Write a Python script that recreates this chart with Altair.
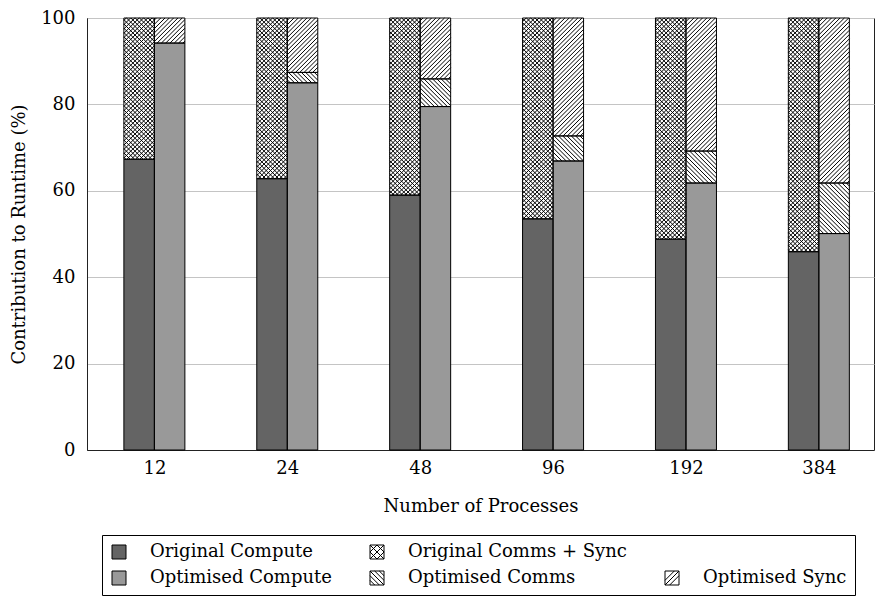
import altair as alt
import numpy as np
import pandas as pd

# ---------------- data ----------------
process_counts = ["12", "24", "48", "96", "192", "384"]
original_compute = [67.3, 62.8, 59.0, 53.5, 48.8, 45.9]
original_comms_sync = [32.7, 37.2, 41.0, 46.5, 51.2, 54.1]
optimised_compute = [94.2, 85.0, 79.5, 66.9, 61.8, 50.1]
optimised_comms = [0.0, 2.4, 6.4, 5.8, 7.4, 11.7]
optimised_sync = [5.8, 12.6, 14.1, 27.3, 30.8, 38.2]

# legend order (column-major, 2 rows x 3 columns); " " is an empty slot
series_names = ["Original Compute", "Optimised Compute",
                "Original Comms + Sync", "Optimised Comms",
                " ", "Optimised Sync"]
series_colors = ["#646464", "#999999", "#ffffff", "#ffffff", "#ffffff", "#ffffff"]
series_strokes = ["black", "black", "black", "black", "transparent", "black"]

# legend symbol paths (unit square -1..1)
SQ = "M-1,-1H1V1H-1Z"
CROSS = SQ + " M-1,0L0,-1 M-1,1L1,-1 M0,1L1,0 M-1,0L0,1 M-1,-1L1,1 M0,-1L1,0"
BACK = SQ + " M-1,-0.33L0.33,1 M-1,0.33L-0.33,1 M-1,-1L1,1 M-0.33,-1L1,0.33 M0.33,-1L1,-0.33"
FWD = SQ + " M-1,1L1,-1 M-1,0.33L0.33,-1 M-0.33,1L1,-0.33"
series_shapes = [SQ, SQ, CROSS, BACK, "M0,0", FWD]

# ---------------- layout constants ----------------
W, H = 787, 432
X_DOMAIN = [-0.507, 5.415]
BAR_W = 0.2295
HATCH_PERIOD = 4.3  # px, horizontal period of hatch lines
FONT = "DejaVu Serif"

# ---------------- build stacked rects ----------------
rows = []
for i, g in enumerate(process_counts):
    base = 0.0
    for name, vals in [("Original Compute", original_compute),
                       ("Original Comms + Sync", original_comms_sync)]:
        rows.append(dict(series=name, x0=i - BAR_W, x1=float(i), y0=base, y1=base + vals[i]))
        base += vals[i]
    base = 0.0
    for name, vals in [("Optimised Compute", optimised_compute),
                       ("Optimised Comms", optimised_comms),
                       ("Optimised Sync", optimised_sync)]:
        rows.append(dict(series=name, x0=float(i), x1=i + BAR_W, y0=base, y1=base + vals[i]))
        base += vals[i]
rects = pd.DataFrame(rows)
rects = rects[rects.y1 - rects.y0 > 1e-9]

# ---------------- hatch lines derived from rects ----------------
kx = W / (X_DOMAIN[1] - X_DOMAIN[0])
ky = H / 100.0


def hatch(x0, x1, y0, y1, direction):
    X0, X1, Y0, Y1 = x0 * kx, x1 * kx, y0 * ky, y1 * ky
    P = HATCH_PERIOD
    out = []
    if direction == "/":
        cmin, cmax = X0 - Y1, X1 - Y0
        k = np.ceil(cmin / P)
        while k * P < cmax:
            c = k * P
            lo, hi = max(Y0, X0 - c), min(Y1, X1 - c)
            if hi - lo > 1e-6:
                out.append(((lo + c) / kx, lo / ky, (hi + c) / kx, hi / ky))
            k += 1
    else:
        cmin, cmax = X0 + Y0, X1 + Y1
        k = np.ceil(cmin / P)
        while k * P < cmax:
            c = k * P
            lo, hi = max(Y0, c - X1), min(Y1, c - X0)
            if hi - lo > 1e-6:
                out.append(((c - lo) / kx, lo / ky, (c - hi) / kx, hi / ky))
            k += 1
    return out


hatch_dirs = {"Original Comms + Sync": ["/", "\\"],
              "Optimised Comms": ["\\"],
              "Optimised Sync": ["/"]}
lines = []
for r in rects.itertuples():
    for d in hatch_dirs.get(r.series, []):
        for (a, b, c, e) in hatch(r.x0, r.x1, r.y0, r.y1, d):
            lines.append(dict(hx=a, hy=b, hx2=c, hy2=e))
hatch_df = pd.DataFrame(lines)

# ---------------- chart ----------------
xscale = alt.Scale(domain=X_DOMAIN, nice=False, zero=False)
yscale = alt.Scale(domain=[0, 100], nice=False)
fill_scale = alt.Scale(domain=series_names, range=series_colors)
stroke_scale = alt.Scale(domain=series_names, range=series_strokes)
shape_scale = alt.Scale(domain=series_names, range=series_shapes)

legend = alt.Legend(
    title=None, orient="none", legendX=15, legendY=517, columns=3,
    strokeColor="black", fillColor="white", padding=8,
    labelFont=FONT, labelFontSize=18, labelColor="black",
    symbolSize=196, symbolStrokeWidth=1,
    symbolOpacity=1, labelOffset=22, columnPadding=36, rowPadding=8,
    labelLimit=400,
)

x_axis = alt.Axis(values=[0, 1, 2, 3, 4, 5],
                  labelExpr="['12','24','48','96','192','384'][datum.value]",
                  title="Number of Processes", grid=False, ticks=False,
                  labelPadding=9, titlePadding=20, domainColor="#222")
y_axis = alt.Axis(values=[0, 20, 40, 60, 80, 100], title="Contribution to Runtime (%)",
                  grid=True, gridColor="#c4c4c4", ticks=False, labelPadding=12,
                  titlePadding=12, domainColor="#222")

bars = alt.Chart(rects).mark_rect(strokeWidth=0).encode(
    x=alt.X("x0:Q", scale=xscale, axis=x_axis),
    x2="x1:Q",
    y=alt.Y("y0:Q", scale=yscale, axis=y_axis),
    y2="y1:Q",
    fill=alt.Fill("series:N", scale=fill_scale, legend=legend),
)

hatches = alt.Chart(hatch_df).mark_rule(color="black", strokeWidth=1.0).encode(
    x=alt.X("hx:Q", scale=xscale), x2="hx2:Q",
    y=alt.Y("hy:Q", scale=yscale), y2="hy2:Q",
)

outlines = alt.Chart(rects).mark_rect(fillOpacity=0, stroke="black", strokeWidth=1).encode(
    x=alt.X("x0:Q", scale=xscale), x2="x1:Q",
    y=alt.Y("y0:Q", scale=yscale), y2="y1:Q",
)

legend_pts = alt.Chart(pd.DataFrame({"series": series_names})).transform_filter(
    "false"
).mark_point(filled=True, strokeWidth=1, opacity=1).encode(
    x=alt.value(0), y=alt.value(0),
    fill=alt.Fill("series:N", scale=fill_scale, legend=legend),
    stroke=alt.Stroke("series:N", scale=stroke_scale, legend=legend),
    shape=alt.Shape("series:N", scale=shape_scale, legend=legend),
)

chart = alt.layer(bars, hatches, outlines, legend_pts).properties(
    width=W, height=H,
    autosize=alt.AutoSizeParams(type="none"),
    padding={"left": 87, "top": 18, "right": 1, "bottom": 153},
    background="white",
).configure_view(
    stroke="#222", strokeWidth=1
).configure_axis(
    labelFont=FONT, titleFont=FONT, labelFontSize=18, titleFontSize=18,
    titleFontWeight="normal", labelColor="black", titleColor="black",
)

chart.save("out.html", embed_options={"renderer": "svg", "actions": False})
